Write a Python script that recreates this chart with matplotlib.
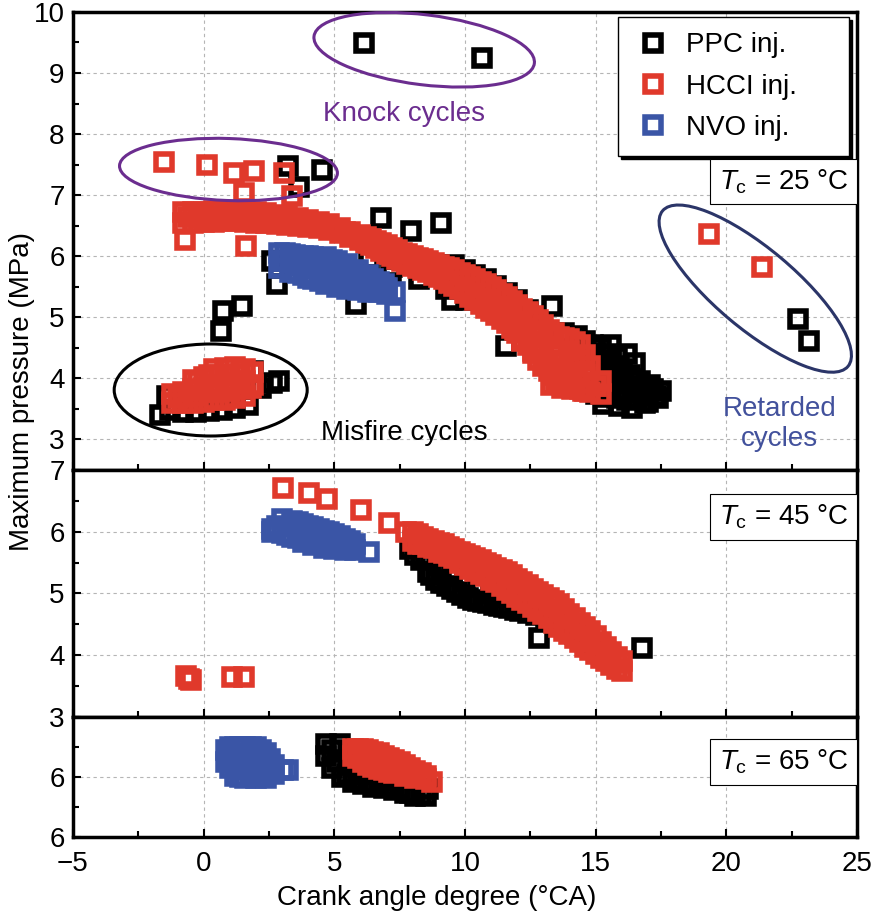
import matplotlib
matplotlib.use('Agg')
import matplotlib.pyplot as plt
from matplotlib.patches import Ellipse
from matplotlib.transforms import ScaledTranslation
from matplotlib.ticker import MultipleLocator

plt.rcParams['font.family'] = ['Liberation Sans', 'DejaVu Sans']
plt.rcParams['mathtext.fontset'] = 'custom'
plt.rcParams['mathtext.rm'] = 'Liberation Sans'
plt.rcParams['mathtext.it'] = 'Liberation Sans:italic'
plt.rcParams['font.size'] = 20

# ---------------- data ----------------
series_labels = ['PPC inj.', 'HCCI inj.', 'NVO inj.']
panel_labels = [r'$T_\mathrm{c}$ = 25 °C', r'$T_\mathrm{c}$ = 45 °C', r'$T_\mathrm{c}$ = 65 °C']

# Tc = 25 C
ppc25_x = [6.15, 10.65, 3.21, 4.54, 3.66, 6.79, 7.94, 9.08, 2.63, 2.79, 5.84, 7.18, 0.73, 1.45, 0.65, 13.32, 11.56, 9.50,
           6.34, 7.21, 8.24, 9.27, 10.04, 9.6, 10.0, 10.4, 10.8, 11.2, 11.6, 12.0, 12.4,
           13.8, 14.3, 14.6, 14.9, 15.2, 14.5, 14.9, 15.3, 15.7, 16.0, 14.8, 15.2, 15.6, 16.0, 16.4, 16.8, 17.2, 17.5,
           15.0, 15.4, 15.8, 16.2, 16.6, 17.0, 15.3, 15.9, 16.4, 16.9, 17.3, 16.2, 16.5, 15.6,
           14.4, 14.7, 15.0, 15.4, 15.8, 16.3, 16.7, 17.1, 15.5, 15.9, 16.5, 16.0, 15.5, 17.4,
           -1.68, -1.4, -1.3, -0.8, -0.3, 0.2, 0.7, 1.2, 1.7, 2.2, 2.6, 2.9, 1.9,
           22.75, 23.17]
ppc25_y = [9.49, 9.25, 7.47, 7.42, 7.14, 6.63, 6.41, 6.55, 5.92, 5.54, 5.21, 5.70, 5.10, 5.18, 4.77, 5.18, 4.53, 5.29,
           5.95, 5.83, 5.62, 5.46, 5.29, 5.85, 5.78, 5.70, 5.62, 5.52, 5.40, 5.28, 5.12,
           4.75, 4.70, 4.62, 4.55, 4.50, 4.35, 4.30, 4.25, 4.20, 4.15, 4.05, 4.00, 3.95, 3.92, 3.88, 3.85, 3.82, 3.80,
           3.75, 3.70, 3.68, 3.65, 3.68, 3.62, 3.58, 3.55, 3.52, 3.60, 3.72, 4.40, 4.25, 4.55,
           4.50, 4.40, 4.42, 4.40, 4.35, 4.05, 3.95, 3.90, 4.10, 4.00, 3.78, 3.75, 3.85, 3.68,
           3.40, 3.72, 3.48, 3.45, 3.45, 3.47, 3.48, 3.52, 3.56, 3.85, 3.92, 3.95, 4.12,
           4.97, 4.62]

hcci25_band_x = [-0.8, -0.4, 0.0, 0.4, 0.8, 1.2, 1.6, 2.0, 2.4, 2.8, 3.2, 3.6, 4.0, 4.4, 4.8, 5.2, 5.6, 6.0, 6.4, 6.8,
                 7.2, 7.6, 8.0, 8.4, 8.8, 9.2, 9.6, 10.0, 10.4, 10.8, 11.2, 11.6, 12.0, 12.4, 12.8, 13.2, 13.6, 14.0,
                 14.4, 14.8, 15.2]
hcci25_band_top = [6.72, 6.72, 6.73, 6.74, 6.74, 6.74, 6.73, 6.72, 6.70, 6.68, 6.66, 6.63, 6.60, 6.56, 6.52, 6.46, 6.40,
                   6.34, 6.28, 6.22, 6.14, 6.06, 6.00, 5.95, 5.89, 5.83, 5.77, 5.70, 5.62, 5.54, 5.45, 5.33, 5.20, 5.08,
                   4.95, 4.80, 4.68, 4.64, 4.55, 4.20, 3.95]
hcci25_band_bot = [6.55, 6.55, 6.56, 6.56, 6.57, 6.57, 6.56, 6.55, 6.54, 6.53, 6.51, 6.50, 6.48, 6.46, 6.43, 6.38, 6.32,
                   6.26, 6.18, 6.08, 6.00, 5.92, 5.84, 5.77, 5.70, 5.62, 5.52, 5.40, 5.28, 5.16, 5.04, 4.90, 4.75, 4.55,
                   4.30, 4.12, 3.98, 3.88, 3.82, 3.78, 3.74]
hcci25_band_mid_x = [-0.6, -0.2, 0.2, 0.6, 1.0, 1.4, 1.8, 2.2, 2.6, 3.0, 3.4, 3.8, 4.2, 4.6, 5.0, 5.4, 5.8, 6.2, 6.6,
                     7.0, 7.4, 7.8, 8.2, 8.6, 9.0, 9.4, 9.8, 10.2, 10.6, 11.0, 11.4, 11.8, 12.2, 12.6, 13.0, 13.4,
                     13.8, 14.2, 14.6, 15.0]
hcci25_band_mid_y = [6.64, 6.64, 6.65, 6.65, 6.66, 6.65, 6.64, 6.63, 6.61, 6.60, 6.58, 6.55, 6.52, 6.49, 6.45, 6.39,
                     6.33, 6.27, 6.19, 6.11, 6.03, 5.96, 5.89, 5.83, 5.76, 5.69, 5.60, 5.50, 5.40, 5.30, 5.18, 5.05,
                     4.90, 4.72, 4.55, 4.40, 4.30, 4.22, 4.02, 3.88]
hcci25_edge_x = [6.2, 6.6, 7.0, 7.4, 7.8, 8.2, 8.6, 9.0, 9.4, 9.8, 10.2, 10.6, 11.0, 11.4, 11.8, 12.2, 12.6, 13.0,
                 13.4, 13.8, 14.2, 14.6]
hcci25_edge_top = [6.31, 6.25, 6.18, 6.10, 6.03, 5.97, 5.92, 5.86, 5.80, 5.73, 5.66, 5.58, 5.50, 5.39, 5.26, 5.14,
                   5.02, 4.88, 4.74, 4.66, 4.60, 4.38]
hcci25_edge_bot = [6.22, 6.13, 6.04, 5.96, 5.88, 5.80, 5.74, 5.66, 5.57, 5.46, 5.34, 5.22, 5.10, 4.97, 4.83, 4.65,
                   4.42, 4.21, 4.05, 3.93, 3.85, 3.80]
hcci25_x = [11.8, 12.2, 12.6, 13.0, 13.4, 13.8, 14.2, 14.6, 15.0, 13.3,
            12.9, 13.1, 13.5, 13.9, 14.3, 14.7, 13.7, 14.1, 14.5, 13.5, 12.6, 12.2, 11.9, 14.0, 14.4,
            -1.53, 0.11, 1.18, 1.91, 3.09, 1.56, 3.40, -0.73, 1.64, 19.35, 21.37,
            -1.2, -1.2, -0.8, -0.8, -0.4, -0.4, -0.4, 0.0, 0.0, 0.0, 0.4, 0.4, 0.4, 0.8, 0.8, 0.8, 1.2, 1.2, 1.2,
            1.6, 1.6, 1.6, 1.9, 1.9,
            -1.0, -0.6, -0.2, 0.2, 0.6, 1.0, 1.4, 1.8, -0.2, 0.2, 0.6, 1.0, 1.4]
hcci25_y = [5.10, 4.92, 4.75, 4.55, 4.38, 4.28, 4.20, 4.05, 3.88, 3.90,
            4.45, 4.25, 4.15, 4.10, 4.05, 3.92, 3.85, 3.82, 3.80, 3.92, 4.45, 4.62, 4.80, 4.45, 4.30,
            7.55, 7.50, 7.37, 7.40, 7.37, 7.04, 6.98, 6.27, 6.16, 6.36, 5.82,
            3.60, 3.75, 3.60, 3.78, 3.60, 3.82, 3.98, 3.62, 3.85, 4.02, 3.65, 3.90, 4.15, 3.65, 3.90, 4.17, 3.68,
            3.92, 4.18, 3.72, 3.95, 4.15, 3.90, 4.10,
            3.68, 3.70, 3.72, 3.78, 3.78, 3.80, 3.82, 3.85, 3.95, 4.05, 4.05, 4.05, 4.08]

nvo25_x = [2.9, 2.9, 3.3, 3.3, 3.3, 3.8, 3.8, 3.8, 4.2, 4.2, 4.2, 4.7, 4.7, 4.7, 5.1, 5.1, 5.1, 5.5, 5.5, 5.5,
           5.9, 5.9, 5.9, 6.3, 6.3, 6.7, 6.7, 7.0, 7.0, 7.33, 7.33,
           3.1, 3.5, 4.0, 4.45, 4.9, 5.3, 5.7, 6.1, 6.5, 6.85, 3.1, 3.5, 4.0, 4.45, 4.9,
           3.0, 3.6, 4.2, 4.8, 5.3, 5.7, 6.1, 6.5, 6.9, 3.6, 4.0, 4.45, 4.9, 5.3, 5.7, 6.1, 6.5]
nvo25_y = [6.06, 5.80, 6.03, 5.75, 5.90, 6.01, 5.69, 5.85, 5.99, 5.62, 5.80, 5.98, 5.55, 5.75, 5.93, 5.50, 5.72,
           5.88, 5.46, 5.66, 5.78, 5.44, 5.60, 5.70, 5.42, 5.58, 5.42, 5.48, 5.38, 5.41, 5.11,
           5.93, 5.85, 5.80, 5.75, 5.70, 5.65, 5.58, 5.55, 5.50, 5.45, 6.05, 6.02, 6.00, 5.97, 5.94,
           5.93, 5.95, 5.90, 5.86, 5.80, 5.72, 5.66, 5.62, 5.55, 5.72, 5.65, 5.60, 5.58, 5.55, 5.50, 5.48, 5.46]

# Tc = 45 C
ppc45_x = [7.9, 8.3, 8.6, 8.9, 9.3, 9.7, 10.1, 10.5, 10.9, 11.3, 11.7, 12.1, 12.4, 8.5, 9.0, 9.5, 10.0, 10.5, 11.0,
           11.5, 12.0, 13.5, 14.2, 14.8, 15.3, 12.82, 16.76,
           8.1, 8.7, 9.1, 9.5, 9.9, 10.3, 10.7, 11.1, 11.5, 11.9, 12.3, 12.7, 13.1]
ppc45_y = [5.72, 5.55, 5.35, 5.22, 5.12, 5.02, 4.93, 4.88, 4.84, 4.80, 4.76, 4.72, 4.68, 5.60, 5.45, 5.35, 5.20, 5.10,
           5.00, 4.95, 4.90, 4.50, 4.35, 4.15, 4.00, 4.28, 4.12,
           5.62, 5.30, 5.17, 5.07, 4.98, 4.90, 4.86, 4.82, 4.78, 4.74, 4.75, 4.65, 4.60]
hcci45_band_x = [8.0, 8.4, 8.8, 9.2, 9.6, 10.0, 10.4, 10.8, 11.2, 11.6, 12.0, 12.4, 12.8, 13.2, 13.6, 14.0, 14.4, 14.8,
                 15.2, 15.6, 16.0]
hcci45_band_top = [6.00, 5.92, 5.85, 5.80, 5.72, 5.64, 5.58, 5.50, 5.42, 5.35, 5.24, 5.13, 5.03, 4.93, 4.83, 4.67, 4.53,
                   4.40, 4.22, 4.05, 3.90]
hcci45_band_bot = [5.85, 5.80, 5.73, 5.66, 5.57, 5.46, 5.36, 5.28, 5.18, 5.06, 4.95, 4.84, 4.72, 4.60, 4.46, 4.34, 4.22,
                   4.08, 3.96, 3.84, 3.74]
hcci45_band_mid_x = [8.2, 8.6, 9.0, 9.4, 9.8, 10.2, 10.6, 11.0, 11.4, 11.8, 12.2, 12.6, 13.0, 13.4, 13.8, 14.2, 14.6,
                     15.0, 15.4, 15.8]
hcci45_band_mid_y = [5.89, 5.83, 5.76, 5.69, 5.61, 5.51, 5.43, 5.35, 5.25, 5.15, 5.04, 4.93, 4.82, 4.70, 4.58, 4.44,
                     4.31, 4.17, 4.02, 3.88]
hcci45_edge_top = [5.96, 5.88, 5.82, 5.76, 5.68, 5.61, 5.54, 5.46, 5.38, 5.30, 5.18, 5.08, 4.98, 4.88, 4.75, 4.60,
                   4.46, 4.31, 4.13, 3.97]
hcci45_edge_bot = [5.80, 5.75, 5.68, 5.60, 5.50, 5.40, 5.32, 5.22, 5.12, 5.00, 4.90, 4.78, 4.66, 4.52, 4.40, 4.28,
                   4.14, 4.02, 3.90, 3.78]
hcci45_x = [3.05, 4.05, 4.73, 6.03, 7.10, 7.75, -0.69, -0.57, -0.50, 1.07, 1.56]
hcci45_y = [6.71, 6.63, 6.53, 6.35, 6.14, 6.00, 3.66, 3.62, 3.60, 3.65, 3.65]
nvo45_x = [2.6, 2.6, 3.0, 3.0, 3.4, 3.4, 3.8, 3.8, 4.2, 4.2, 4.6, 4.6, 5.0, 5.0, 5.4, 5.4, 5.8, 5.8, 6.34,
           3.2, 3.6, 4.0, 4.4, 4.8, 5.2, 5.6,
           2.8, 3.2, 3.6, 4.0, 4.4, 4.8, 5.2, 5.6, 3.6, 4.0, 4.4, 4.8, 5.2, 5.6]
nvo45_y = [6.05, 6.00, 6.20, 5.98, 6.18, 5.92, 6.12, 5.84, 6.07, 5.78, 6.02, 5.74, 5.96, 5.72, 5.88, 5.71, 5.80, 5.71,
           5.67, 6.08, 6.02, 5.96, 5.92, 5.86, 5.80, 5.76,
           6.10, 5.95, 5.90, 5.85, 5.80, 5.76, 5.73, 5.72, 6.15, 6.10, 6.05, 6.00, 5.93, 5.85]

# Tc = 65 C
ppc65_x = [4.7, 4.7, 4.9, 5.2, 5.3, 5.7, 6.1, 6.5, 6.9, 7.3, 7.7, 8.1, 8.5, 8.6, 5.6, 6.2, 7.0,
           4.9, 5.1, 5.5, 5.9, 6.3, 6.7, 7.1, 7.5, 7.9, 8.3]
ppc65_y = [6.55, 6.35, 6.15, 6.55, 6.00, 5.92, 5.88, 5.84, 5.82, 5.78, 5.74, 5.68, 5.68, 5.80, 6.20, 6.05, 5.95,
           6.45, 6.25, 6.05, 5.95, 5.90, 5.86, 5.84, 5.80, 5.74, 5.70]
hcci65_x = [5.7, 5.7, 6.1, 6.1, 6.5, 6.5, 6.9, 6.9, 7.3, 7.3, 7.7, 7.7, 8.1, 8.1, 8.5, 8.74,
            5.9, 6.3, 6.7, 7.1, 7.5, 7.9, 8.3, 6.3, 6.7, 7.1,
            5.9, 6.3, 6.7, 7.1, 7.5, 7.9, 8.3, 5.9, 6.5, 6.9, 7.3, 7.7, 8.1, 8.5]
hcci65_y = [6.47, 6.35, 6.46, 6.25, 6.42, 6.17, 6.35, 6.12, 6.28, 6.06, 6.20, 6.02, 6.10, 5.99, 6.02, 5.92,
            6.40, 6.33, 6.27, 6.20, 6.13, 6.08, 6.02, 6.20, 6.14, 6.09,
            6.47, 6.45, 6.40, 6.32, 6.25, 6.15, 6.06, 6.32, 6.30, 6.24, 6.17, 6.11, 6.05, 5.96]
nvo65_x = [0.85, 0.85, 1.2, 1.2, 1.2, 1.6, 1.6, 1.6, 2.0, 2.0, 2.0, 2.4, 2.4, 2.4, 2.7, 2.7, 3.02, 3.24,
           1.0, 1.4, 1.8, 2.2, 1.4, 1.8, 2.2, 1.0,
           1.0, 1.4, 1.8, 2.2, 1.0, 1.4, 1.8, 2.2, 1.4, 1.8, 2.2, 2.55, 2.55]
nvo65_y = [6.45, 6.25, 6.50, 6.25, 6.02, 6.50, 6.25, 5.98, 6.50, 6.25, 5.98, 6.40, 6.20, 5.98, 6.20, 6.05, 6.12, 6.12,
           6.38, 6.38, 6.38, 6.35, 6.12, 6.10, 6.10, 6.15,
           6.50, 6.50, 6.50, 6.45, 6.30, 6.25, 6.25, 6.22, 6.00, 6.00, 6.00, 6.12, 6.30]

yticks_25 = [3, 4, 5, 6, 7, 8, 9, 10]
yticks_45 = [3, 4, 5, 6, 7]
yticks_65 = [5, 6]
ytick_labels_65 = ['6', '6']

# ---------------- style ----------------
C_PPC = '#000000'
C_HCCI = '#e0392b'
C_NVO = '#3a55a6'
PURPLE = '#6b2d8f'
NAVY = '#2b3568'
RET_TXT = '#42519c'

fig = plt.figure(figsize=(8.72, 9.18), dpi=100)
L, W = 0.0837, 0.899
ax1 = fig.add_axes([L, 0.488, W, 0.499])
ax2 = fig.add_axes([L, 0.219, W, 0.269])
ax3 = fig.add_axes([L, 0.0882, W, 0.1308])


def style(ax, ylim, yticks, ylabels=None):
    ax.set_xlim(-5, 25)
    ax.set_ylim(*ylim)
    ax.xaxis.set_major_locator(MultipleLocator(5))
    ax.xaxis.set_minor_locator(MultipleLocator(2.5))
    ax.set_yticks(yticks)
    if ylabels is not None:
        ax.set_yticklabels(ylabels)
    ax.yaxis.set_minor_locator(MultipleLocator(0.5))
    ax.grid(True, which='major', color='#b5b5b5', ls=(0, (3, 3)), lw=0.8)
    ax.set_axisbelow(True)
    for s in ax.spines.values():
        s.set_linewidth(2.5)
    ax.tick_params(which='both', direction='in', top=False, right=False, width=1.5)
    ax.tick_params(which='major', length=6, labelsize=20, pad=6)
    ax.tick_params(which='minor', length=4)
    ax.tick_params(axis='x', which='major', pad=10)


def pts(ax, x, y, c, label=None):
    return ax.plot(x, y, ls='none', marker='s', ms=12, mew=4, mfc='none', mec=c, label=label)[0]


style(ax1, (2.5, 10), yticks_25)
style(ax2, (3, 7), yticks_45)
style(ax3, (5, 7), yticks_65, ytick_labels_65)
ax1.tick_params(labelbottom=False)
ax2.tick_params(labelbottom=False)

# top panel
h1 = pts(ax1, ppc25_x, ppc25_y, C_PPC, series_labels[0])
h2 = pts(ax1, hcci25_band_x, hcci25_band_top, C_HCCI, series_labels[1])
pts(ax1, hcci25_band_x, hcci25_band_bot, C_HCCI)
pts(ax1, hcci25_band_mid_x, hcci25_band_mid_y, C_HCCI)
pts(ax1, hcci25_edge_x, hcci25_edge_top, C_HCCI)
pts(ax1, hcci25_edge_x, hcci25_edge_bot, C_HCCI)
pts(ax1, hcci25_x, hcci25_y, C_HCCI)
h3 = pts(ax1, nvo25_x, nvo25_y, C_NVO, series_labels[2])

# middle panel
pts(ax2, ppc45_x, ppc45_y, C_PPC)
pts(ax2, hcci45_band_x, hcci45_band_top, C_HCCI)
pts(ax2, hcci45_band_x, hcci45_band_bot, C_HCCI)
pts(ax2, hcci45_band_mid_x, hcci45_band_mid_y, C_HCCI)
pts(ax2, hcci45_band_mid_x, hcci45_edge_top, C_HCCI)
pts(ax2, hcci45_band_mid_x, hcci45_edge_bot, C_HCCI)
pts(ax2, hcci45_x, hcci45_y, C_HCCI)
pts(ax2, nvo45_x, nvo45_y, C_NVO)

# bottom panel
pts(ax3, ppc65_x, ppc65_y, C_PPC)
pts(ax3, hcci65_x, hcci65_y, C_HCCI)
pts(ax3, nvo65_x, nvo65_y, C_NVO)


def ellipse(ax, cx, cy, w_px, h_px, angle, color, lw=2.2):
    tr = fig.dpi_scale_trans + ScaledTranslation(cx, cy, ax.transData)
    e = Ellipse((0, 0), w_px / 100, h_px / 100, angle=angle, transform=tr, fill=False,
                ec=color, lw=lw, clip_on=False, zorder=4)
    ax.add_patch(e)


ellipse(ax1, 8.44, 9.38, 222, 70, -7, PURPLE)
ellipse(ax1, 0.95, 7.42, 218, 62, -2, PURPLE)
ellipse(ax1, 0.27, 3.81, 193, 92, 0, 'black')
ellipse(ax1, 21.11, 5.47, 242, 80, -40, NAVY)

ax1.text(7.67, 8.33, 'Knock cycles', color=PURPLE, ha='center', va='center', fontsize=20)
ax1.text(7.67, 3.10, 'Misfire cycles', color='black', ha='center', va='center', fontsize=20)
ax1.text(22.05, 3.26, 'Retarded\ncycles', color=RET_TXT, ha='center', va='center', fontsize=20, linespacing=1.2)

for ax, lab, yy in zip([ax1, ax2, ax3], panel_labels, [0.629, 0.81, 0.625]):
    ax.text(0.989, yy, lab, transform=ax.transAxes, ha='right', va='center', fontsize=20, zorder=6,
            bbox=dict(boxstyle='square,pad=0.3', fc='white', ec='black', lw=0.8))

leg = ax1.legend(handles=[h1, h2, h3], loc='upper right', bbox_to_anchor=(0.695, 0.689, 0.295, 0.3),
                 mode='expand', borderaxespad=0,
                 fontsize=20, frameon=True, fancybox=False, edgecolor='black', framealpha=1,
                 shadow={'color': 'black', 'alpha': 1}, handlelength=1.4, handletextpad=0.5,
                 labelspacing=0.55, borderpad=0.55)
leg.get_frame().set_linewidth(1.0)

fig.text(0.025, 0.574, 'Maximum pressure (MPa)', rotation=90, ha='center', va='center', fontsize=20)
fig.text(0.501, 0.022, 'Crank angle degree (°CA)', ha='center', va='center', fontsize=20)

fig.savefig('out.png', dpi=100)
